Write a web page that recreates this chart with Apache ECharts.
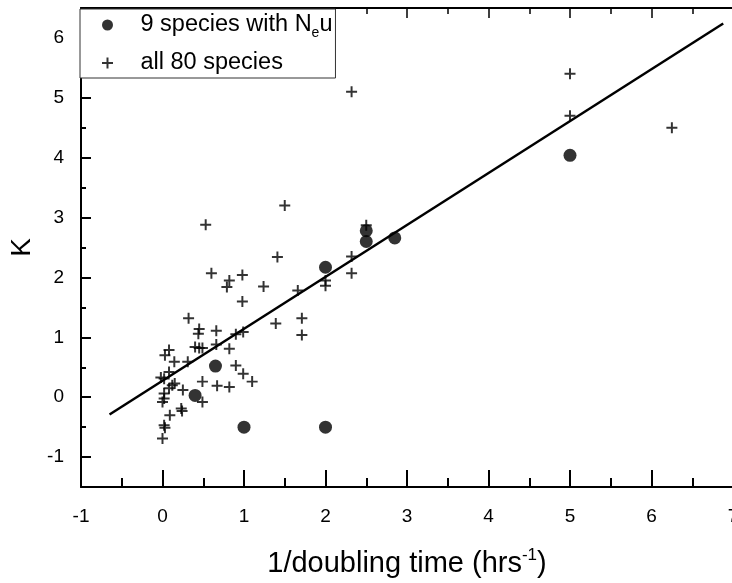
<!DOCTYPE html>
<html>
<head>
<meta charset="utf-8">
<script src="https://cdn.jsdelivr.net/npm/echarts@6/dist/echarts.min.js"></script>
<style>
html, body { margin: 0; padding: 0; background: #fff; }
#chart { width: 732px; height: 583px; }
</style>
</head>
<body>
<div id="chart"></div>
<script>
// 9 species with N_e u (filled circles)
var circleData = [
    [0.4, 0.03], [0.65, 0.52], [1.0, -0.5], [2.0, -0.5], [2.0, 2.17],
    [2.5, 2.6], [2.5, 2.78], [2.85, 2.66], [5.0, 4.04]
];
// all 80 species (plus markers)
var plusData = [
    [0.53, 2.88], [1.5, 3.2], [1.41, 2.34], [0.6, 2.07], [0.82, 1.95],
    [0.79, 1.84], [0.98, 2.04], [1.24, 1.85], [0.98, 1.6], [1.66, 1.78],
    [2.0, 1.95], [2.0, 1.86], [2.32, 2.35], [2.32, 2.07], [2.5, 2.87],
    [2.32, 5.1], [5.0, 5.4], [5.0, 4.7], [6.25, 4.5], [0.32, 1.32],
    [0.45, 1.14], [0.44, 1.06], [0.66, 1.11], [0.9, 1.05], [0.99, 1.09],
    [1.39, 1.23], [1.71, 1.32], [1.71, 1.04], [0.08, 0.79], [0.03, 0.7],
    [0.145, 0.59], [0.4, 0.84], [0.45, 0.82], [0.49, 0.82], [0.66, 0.88],
    [0.82, 0.81], [0.31, 0.59], [0.9, 0.53], [0.99, 0.39], [0.08, 0.42],
    [-0.02, 0.33], [0.02, 0.31], [0.12, 0.2], [0.08, 0.15], [0.02, 0.06],
    [0.02, -0.02], [0.0, -0.08], [0.25, 0.12], [0.49, 0.26], [0.67, 0.19],
    [0.82, 0.17], [0.49, -0.08], [1.1, 0.26], [0.09, -0.3], [0.23, -0.19],
    [0.24, -0.23], [0.02, -0.47], [0.03, -0.51], [0.0, -0.69], [0.15, 0.23]
];
// fitted line
var fitLine = [[-0.65, -0.29], [6.88, 6.24]];

var yMajor = [-1, 0, 1, 2, 3, 4, 5, 6];
var yMinor = [-0.5, 0.5, 1.5, 2.5, 3.5, 4.5, 5.5];

var seriesNames = ['9 species with N_eu', 'all 80 species'];

var plusPath = 'path://M4.1,0H5.9V4.1H10V5.9H5.9V10H4.1V5.9H0V4.1H4.1Z';
var font = 'Liberation Sans';

var chart = echarts.init(document.getElementById('chart'));

var option = {
    backgroundColor: '#fff',
    animation: false,
    grid: { left: 81, right: -1, top: 8, bottom: 96, containLabel: false, outerBoundsMode: 'none' },
    legend: {
        data: seriesNames,
        orient: 'vertical',
        left: 80,
        top: 9,
        itemWidth: 56,
        itemHeight: 11,
        itemGap: 8,
        padding: [1, 3, 0, 22],
        borderColor: '#333',
        borderWidth: 1,
        backgroundColor: '#fff',
        formatter: function (name) {
            if (name === seriesNames[0]) return '9 species with N{sub|e}u';
            return name;
        },
        textStyle: {
            fontFamily: font,
            fontSize: 23.5,
            color: '#000',
            lineHeight: 30,
            rich: {
                sub: { fontFamily: font, fontSize: 14, lineHeight: 14, verticalAlign: 'bottom', color: '#000' }
            }
        }
    },
    xAxis: [
        {
            type: 'value', min: -1, max: 7, interval: 1,
            name: '1/doubling time (hrs{sup|-1})',
            nameLocation: 'middle',
            nameGap: 60,
            nameTextStyle: {
                fontFamily: font, fontSize: 29, color: '#000', lineHeight: 34,
                rich: { sup: { fontFamily: font, fontSize: 17, lineHeight: 17, verticalAlign: 'top', color: '#000' } }
            },
            axisLine: { show: true, onZero: false, lineStyle: { color: '#000', width: 2 } },
            axisTick: { inside: true, length: 17, lineStyle: { color: '#000', width: 2 } },
            minorTick: { show: true, splitNumber: 2, length: 9, lineStyle: { color: '#000', width: 2 } },
            axisLabel: { fontFamily: font, fontSize: 19, color: '#000', margin: 20 },
            splitLine: { show: false }
        },
        {
            type: 'value', min: -1, max: 7, interval: 1, position: 'top',
            axisLine: { show: true, onZero: false, lineStyle: { color: '#000', width: 2 } },
            axisTick: { inside: true, length: 10, lineStyle: { color: '#000', width: 1.5 } },
            minorTick: { show: true, splitNumber: 2, length: 6, lineStyle: { color: '#000', width: 1.5 } },
            axisLabel: { show: false },
            splitLine: { show: false }
        }
    ],
    yAxis: [
        {
            type: 'value', min: -1.5, max: 6.5,
            name: 'K',
            nameLocation: 'middle',
            nameGap: 44,
            nameTextStyle: { fontFamily: font, fontSize: 28, color: '#000' },
            axisLine: { show: true, onZero: false, lineStyle: { color: '#000', width: 2 } },
            axisTick: { inside: true, length: 10, customValues: yMajor, lineStyle: { color: '#000', width: 2 } },
            axisLabel: { fontFamily: font, fontSize: 19, color: '#000', margin: 17, customValues: yMajor },
            splitLine: { show: false }
        },
        {
            type: 'value', min: -1.5, max: 6.5, position: 'left', offset: 0,
            axisLine: { show: false, onZero: false },
            axisTick: { show: true, inside: true, length: 5, customValues: yMinor, lineStyle: { color: '#000', width: 2 } },
            axisLabel: { show: false },
            splitLine: { show: false }
        }
    ],
    series: [
        {
            name: 'fit',
            type: 'line',
            data: fitLine,
            symbol: 'none',
            lineStyle: { color: '#000', width: 2.5 },
            z: 2
        },
        {
            name: seriesNames[1],
            type: 'scatter',
            data: plusData,
            symbol: plusPath,
            symbolKeepAspect: true,
            symbolSize: 11,
            itemStyle: { color: '#000' },
            z: 3
        },
        {
            name: seriesNames[0],
            type: 'scatter',
            data: circleData,
            symbol: 'circle',
            symbolSize: 13,
            itemStyle: { color: '#000' },
            z: 4
        }
    ]
};

chart.setOption(option);
window.addEventListener('resize', function () {
    chart.resize();
});
</script>
</body>
</html>
